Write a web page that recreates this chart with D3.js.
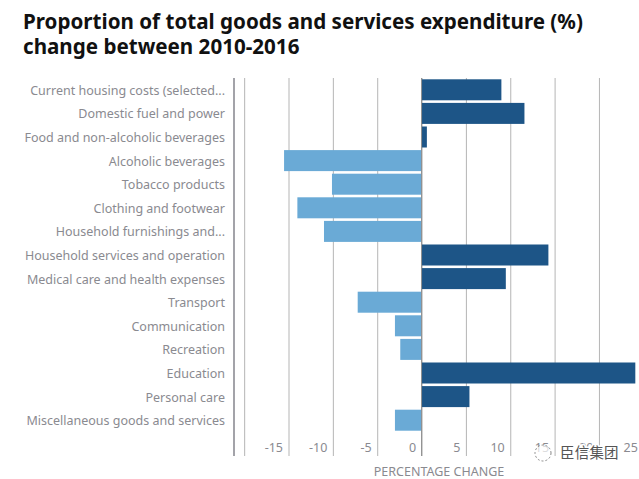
<!DOCTYPE html>
<html lang="en">
  <head>
  <meta charset="utf-8"/>
    <script type="text/javascript" src="https://cdnjs.cloudflare.com/ajax/libs/d3/7.8.5/d3.min.js"></script>
    <style>
      html, body { margin: 0; padding: 0; background: #fff; }
      svg { display: block; }
      text { font-family: "Noto Sans", sans-serif; }
    </style>
  </head>
  <body>
    <svg class="chart"></svg>
    <script type="text/javascript">

var categories = [
  "Current housing costs (selected...",
  "Domestic fuel and power",
  "Food and non-alcoholic beverages",
  "Alcoholic beverages",
  "Tobacco products",
  "Clothing and footwear",
  "Household furnishings and...",
  "Household services and operation",
  "Medical care and health expenses",
  "Transport",
  "Communication",
  "Recreation",
  "Education",
  "Personal care",
  "Miscellaneous goods and services"
];
var values = [9.0, 11.6, 0.6, -15.5, -10.1, -14.0, -11.0, 14.3, 9.5, -7.2, -3.0, -2.4, 24.1, 5.4, -3.0];
var tickValues = [-20, -15, -10, -5, 0, 5, 10, 15, 20, 25];
var titleLines = ["Proportion of total goods and services expenditure (%)", "change between 2010-2016"];

var width = 639, height = 479;
var svg = d3.select(".chart").attr("width", width).attr("height", height);

// x: 44.3px for every 5 points, zero sits at 421.6
var x = d3.scaleLinear().domain([-21.1, 25]).range([234.4, 643.3]);
var y = d3.scaleBand().domain(categories).range([78, 432]).paddingInner(0.11).paddingOuter(0.055);

svg.selectAll("text.title").data(titleLines).enter().append("text")
  .attr("class", "title")
  .attr("x", 23)
  .attr("y", function(d, i) { return 29 + i * 24.5; })
  .attr("font-size", 20.6)
  .attr("font-weight", 700)
  .attr("fill", "#111")
  .text(function(d) { return d; });

// gridlines and tick labels come from the axis
var xAxis = d3.axisBottom(x).tickValues(tickValues).tickSize(378).tickSizeOuter(0)
  .tickFormat(function(d) { return d === -20 ? "" : d; });
var gx = svg.append("g").attr("transform", "translate(0,78)").call(xAxis);
gx.select(".domain").remove();
gx.selectAll("line").attr("stroke", "#b5b5b5");
gx.selectAll("text")
  .attr("y", 370)
  .attr("dy", "0.35em")
  .attr("x", -6)
  .attr("text-anchor", "end")
  .attr("font-size", 12.5)
  .attr("fill", "#8a8a90");

svg.selectAll("rect.bar").data(values).enter().append("rect")
  .attr("class", "bar")
  .attr("x", function(d) { return x(Math.min(d, 0)); })
  .attr("y", function(d, i) { return y(categories[i]); })
  .attr("width", function(d) { return Math.abs(x(d) - x(0)); })
  .attr("height", y.bandwidth())
  .attr("fill", function(d) { return d < 0 ? "#6aaad6" : "#1d5587"; });

// zero line on top of the bars
svg.append("line")
  .attr("x1", x(0)).attr("x2", x(0)).attr("y1", 78).attr("y2", 456)
  .attr("stroke", "#8f8f8f");

// left axis with the category names
var yAxis = d3.axisLeft(y).tickSize(0).tickPadding(9);
var gy = svg.append("g").attr("transform", "translate(234,0)").call(yAxis);
gy.select(".domain").attr("stroke", "#85858d").attr("stroke-width", 1.5).attr("d", "M0,78V456");
gy.selectAll("text").attr("font-size", 12.5).attr("fill", "#8a8a90").attr("dy", "0.4em");

svg.append("text")
  .attr("x", 439).attr("y", 475.5)
  .attr("text-anchor", "middle")
  .attr("font-size", 12.5)
  .attr("fill", "#8a8a90")
  .text("PERCENTAGE CHANGE");

// watermark over the lower right corner, white halo partly hides 15 and 20
svg.append("circle")
  .attr("cx", 543).attr("cy", 453).attr("r", 8)
  .attr("fill", "#fff").attr("fill-opacity", 0.7)
  .attr("stroke", "#888").attr("stroke-dasharray", "2 2");
svg.append("text")
  .attr("x", 560).attr("y", 458)
  .attr("font-size", 14.5)
  .attr("letter-spacing", 0.2)
  .style("font-family", '"Noto Sans CJK SC"')
  .style("paint-order", "stroke")
  .attr("stroke", "#fff").attr("stroke-width", 3)
  .attr("fill", "#555")
  .text("臣信集团");

    </script>
  </body>
</html>
